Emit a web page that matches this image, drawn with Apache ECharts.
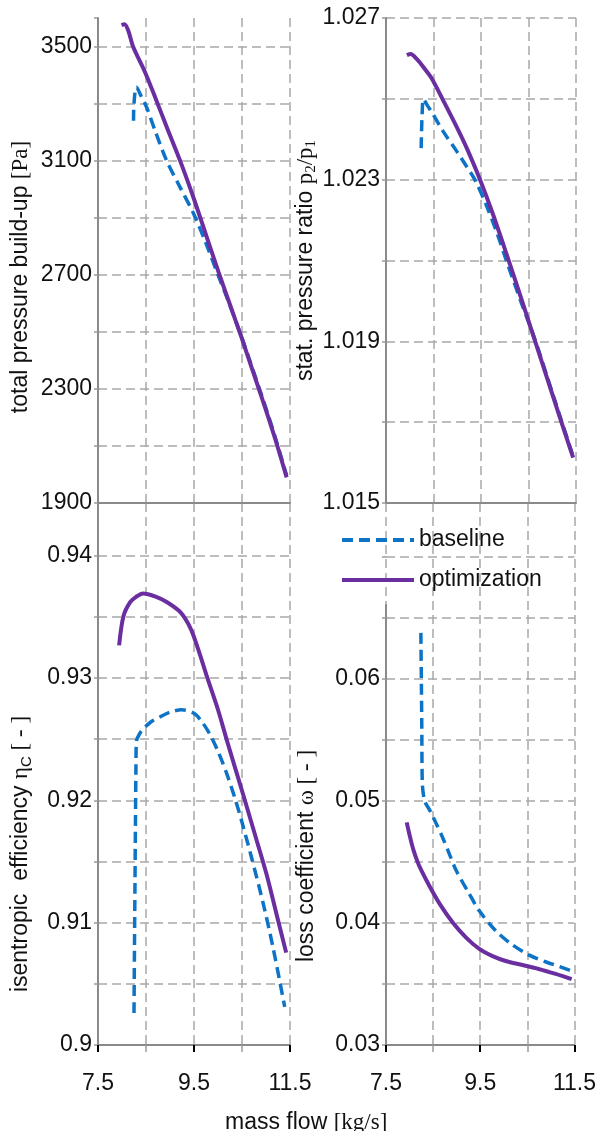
<!DOCTYPE html>
<html>
<head>
<meta charset="utf-8">
<script src="https://cdn.jsdelivr.net/npm/echarts@6/dist/echarts.min.js"></script>
<style>
  html, body { margin: 0; padding: 0; background: #fff; }
  #chart { width: 599px; height: 1131px; }
</style>
</head>
<body>
<div id="chart"></div>
<script>
// Mass flow [kg/s] samples and the quantities plotted against them

// total pressure build-up [Pa]
const tpFlowBase = [8.24, 8.25, 8.30, 8.40, 8.51, 8.70, 8.93, 9.20, 9.49, 9.75, 10.00, 10.25, 10.50, 10.75, 11.00, 11.20, 11.43];
const tpBase     = [3240, 3300, 3358, 3326, 3288, 3200, 3100, 3010, 2915, 2810, 2700, 2592, 2478, 2356, 2232, 2126, 1996];
const tpFlowOpt  = [7.99, 8.05, 8.13, 8.23, 8.48, 8.70, 8.95, 9.21, 9.49, 9.75, 10.01, 10.25, 10.50, 10.75, 11.00, 11.20, 11.43];
const tpOpt      = [3575, 3578, 3556, 3500, 3410, 3318, 3210, 3100, 2970, 2840, 2710, 2595, 2475, 2350, 2225, 2120, 1990];

// static pressure ratio p2/p1
const prFlowBase = [8.24, 8.26, 8.29, 8.38, 8.49, 8.70, 8.99, 9.20, 9.37, 9.60, 9.83, 10.04, 10.35, 10.64, 10.90, 11.16, 11.44];
const prBase     = [1.02378, 1.02460, 1.02499, 1.02482, 1.02462, 1.02420, 1.02370, 1.02332, 1.02300, 1.02240, 1.02170, 1.02098, 1.01995, 1.01903, 1.01810, 1.01716, 1.01615];
const prFlowOpt  = [7.94, 8.02, 8.15, 8.29, 8.46, 8.70, 8.99, 9.20, 9.48, 9.75, 10.04, 10.35, 10.64, 10.90, 11.16, 11.44];
const prOpt      = [1.02608, 1.02611, 1.02598, 1.02578, 1.02551, 1.02497, 1.02430, 1.02378, 1.02300, 1.02215, 1.02115, 1.02005, 1.01900, 1.01806, 1.01712, 1.01612];

// isentropic efficiency eta_C
const etaFlowBase = [8.25, 8.26, 8.27, 8.28, 8.29, 8.30, 8.375, 8.44, 8.60, 8.79, 9.00, 9.24, 9.49, 9.65, 9.83, 10.00, 10.18, 10.35, 10.50, 10.70, 10.94, 11.15, 11.39];
const etaBase     = [0.90262, 0.9080, 0.9130, 0.9180, 0.9225, 0.92483, 0.92549, 0.92582, 0.92640, 0.92681, 0.92720, 0.92740, 0.92713, 0.92650, 0.92540, 0.92400, 0.92220, 0.92020, 0.91820, 0.91530, 0.91160, 0.90790, 0.90311];
const etaFlowOpt  = [7.94, 8.03, 8.17, 8.30, 8.44, 8.70, 8.94, 9.22, 9.43, 9.60, 9.77, 10.00, 10.19, 10.53, 10.80, 11.01, 11.20, 11.42];
const etaOpt      = [0.93266, 0.93504, 0.93619, 0.93665, 0.93691, 0.93665, 0.93619, 0.93536, 0.93404, 0.93220, 0.93010, 0.92740, 0.92483, 0.92039, 0.91680, 0.91397, 0.91100, 0.90755];

// loss coefficient omega
const omFlowBase = [8.24, 8.25, 8.26, 8.27, 8.32, 8.43, 8.57, 8.71, 8.85, 8.99, 9.25, 9.48, 9.83, 10.15, 10.53, 10.90, 11.20, 11.44];
const omBase     = [0.06376, 0.0600, 0.0560, 0.05152, 0.05000, 0.04922, 0.04810, 0.04692, 0.04560, 0.04429, 0.04250, 0.04099, 0.03935, 0.03830, 0.03738, 0.03680, 0.03640, 0.03606];
const omFlowOpt  = [7.94, 8.00, 8.08, 8.17, 8.25, 8.43, 8.65, 8.92, 9.20, 9.48, 9.75, 10.04, 10.40, 10.74, 11.10, 11.44];
const omOpt      = [0.04824, 0.04720, 0.04600, 0.04500, 0.04430, 0.04297, 0.04150, 0.04001, 0.03880, 0.03787, 0.03730, 0.03688, 0.03655, 0.03623, 0.03582, 0.03540];

const seriesNames = ['baseline', 'optimization'];
const xTicks = [7.5, 9.5, 11.5];

const SANS = 'Liberation Sans';
const SERIF = 'Liberation Serif';
const BLUE = '#0c73c6';
const PURPLE = '#6a2ea0';
const TEXT = '#111';
const GRID_LINE = { color: '#a8a8a8', width: 1.5, type: [9, 5] };
const AXIS_LINE = { color: '#8a8a8a', width: 2 };

const pairs = (xs, ys) => xs.map((x, i) => [x, ys[i]]);

const richName = {
  a: { fontSize: 23, fontFamily: SANS, fontWeight: 'normal', color: TEXT, lineHeight: 26 },
  b: { fontSize: 23, fontFamily: SERIF, fontWeight: 'normal', color: TEXT, lineHeight: 26 },
  s: { fontSize: 15, fontFamily: SERIF, fontWeight: 'normal', color: TEXT, lineHeight: 12, verticalAlign: 'bottom' },
  c: { fontSize: 15, fontFamily: SANS, fontWeight: 'normal', color: TEXT, lineHeight: 12, verticalAlign: 'bottom' }
};

function xAxis(gridIndex, bottom) {
  return {
    type: 'value', gridIndex, min: xTicks[0], max: xTicks[xTicks.length - 1], interval: xTicks[1] - xTicks[0],
    axisLine: { show: true, onZero: false, lineStyle: AXIS_LINE },
    axisTick: { show: bottom, length: 7, lineStyle: { color: '#000', width: 2 } },
    minorTick: { show: bottom, splitNumber: 2, length: 7, lineStyle: { color: '#9a9a9a', width: 1.5 } },
    splitLine: { show: true, lineStyle: GRID_LINE },
    minorSplitLine: { show: true, lineStyle: GRID_LINE },
    axisLabel: { show: bottom, fontSize: 23, fontFamily: SANS, color: TEXT, margin: 27 }
  };
}

function yAxis(gridIndex, min, max, step, fmt, name, gap, pad, opts) {
  return Object.assign({
    type: 'value', gridIndex, min, max, interval: step,
    axisLine: { show: true, lineStyle: AXIS_LINE },
    axisTick: { show: true, length: 4, lineStyle: { color: '#9a9a9a', width: 1.5 } },
    splitLine: { show: true, lineStyle: GRID_LINE, showMaxLine: false },
    axisLabel: { fontSize: 23, fontFamily: SANS, color: TEXT, margin: 6, formatter: fmt },
    name, nameLocation: 'middle', nameRotate: 90, nameGap: gap,
    nameTextStyle: { rich: richName, padding: pad }
  }, opts || {});
}

// every second grid step carries a label
const everyOther = (min, step, last, digits) => v => {
  const k = Math.round((v - min) / step);
  return (k % 2 === 0 && v <= last + step / 10) ? String(+v.toFixed(digits)) : '';
};

function baseSeries(xi, data) {
  return { type: 'line', name: seriesNames[0], xAxisIndex: xi, yAxisIndex: xi, data,
    symbol: 'none', smooth: 0.3, z: 2,
    lineStyle: { color: BLUE, width: 3.5, type: [11, 6] }, itemStyle: { color: BLUE } };
}
function optSeries(xi, data) {
  return { type: 'line', name: seriesNames[1], xAxisIndex: xi, yAxisIndex: xi, data,
    symbol: 'none', smooth: 0.3, z: 3,
    lineStyle: { color: PURPLE, width: 4 }, itemStyle: { color: PURPLE } };
}

const option = {
  animation: false,
  backgroundColor: '#fff',
  grid: [
    { left: 98, top: 18, width: 192, height: 485 },
    { left: 386, top: 18, width: 190, height: 485 },
    { left: 98, top: 503, width: 192, height: 542 },
    { left: 386, top: 503, width: 190, height: 542 },
    { left: 386, top: 605, width: 190, height: 440 }
  ],
  title: {
    text: '{a|mass flow }{b|[kg/s]}', left: 220, top: 1105,
    textStyle: { fontWeight: 'normal', rich: richName }
  },
  legend: {
    data: seriesNames, orient: 'vertical', left: 340, top: 527, padding: 0,
    itemWidth: 72, itemHeight: 14, itemGap: 14,
    lineStyle: { width: 4 },
    itemStyle: { opacity: 0, borderWidth: 0 },
    textStyle: { fontSize: 23, fontFamily: SANS, color: TEXT, lineHeight: 26 }
  },
  xAxis: [
    xAxis(0, false), xAxis(1, false), xAxis(2, true), xAxis(3, true),
    { type: 'value', gridIndex: 4, min: 0, max: 1, show: false }
  ],
  yAxis: [
    yAxis(0, 1900, 3600, 200, everyOther(1900, 200, 3500, 0),
      '{a|total pressure build-up }{b|[Pa]}', 64, [0, 33, 0, 0]),
    yAxis(1, 1.015, 1.027, 0.002, everyOther(1.015, 0.002, 1.027, 3),
      '{a|stat. pressure ratio }{b|p}{s|2}{b|/p}{s|1}', 66, [0, 0, 0, 0],
      { splitLine: { show: true, lineStyle: GRID_LINE } }),
    yAxis(2, 0.9, 0.9443, 0.005, everyOther(0.9, 0.005, 0.94, 2),
      '{a|isentropic  efficiency }{b|η}{c|C}{b| [ - ]}', 64, [0, 160, 0, 0]),
    yAxis(3, 0.03, 0.0744, 0.005, everyOther(0.03, 0.005, 0.06, 2),
      '{a|loss coefficient }{b|ω [ - ]}', 66, [0, 164, 0, 0],
      { axisLine: { show: false } }),
    { type: 'value', gridIndex: 4, min: 0, max: 1,
      axisLine: { show: true, lineStyle: AXIS_LINE },
      axisTick: { show: false }, axisLabel: { show: false }, splitLine: { show: false } }
  ],
  series: [
    baseSeries(0, pairs(tpFlowBase, tpBase)),
    optSeries(0, pairs(tpFlowOpt, tpOpt)),
    baseSeries(1, pairs(prFlowBase, prBase)),
    optSeries(1, pairs(prFlowOpt, prOpt)),
    baseSeries(2, pairs(etaFlowBase, etaBase)),
    optSeries(2, pairs(etaFlowOpt, etaOpt)),
    baseSeries(3, pairs(omFlowBase, omBase)),
    optSeries(3, pairs(omFlowOpt, omOpt))
  ]
};

const chart = echarts.init(document.getElementById('chart'), null, { renderer: 'canvas' });
chart.setOption(option);
</script>
</body>
</html>
